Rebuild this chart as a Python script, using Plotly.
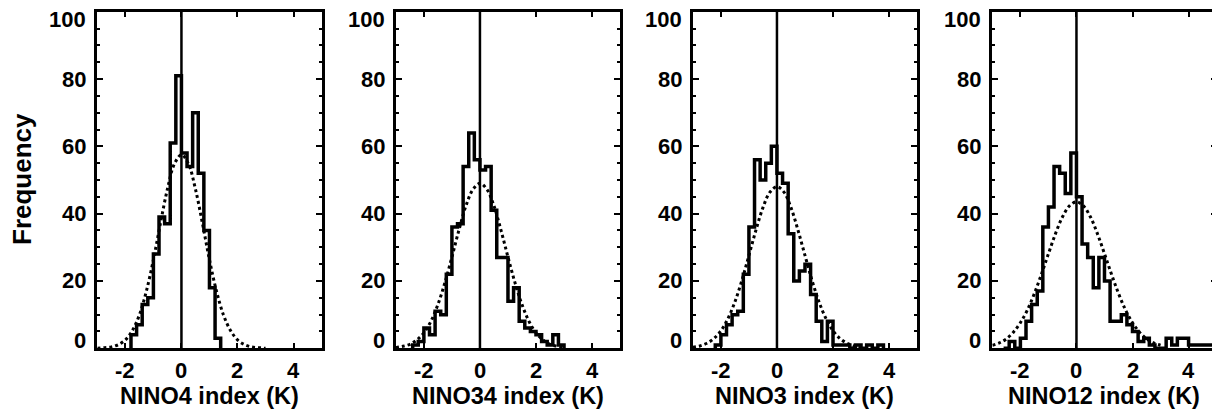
import numpy as np
import plotly.graph_objects as go

# ---------------- data ----------------
panel_titles = ["NINO4 index (K)", "NINO34 index (K)", "NINO3 index (K)", "NINO12 index (K)"]
bin_width = 0.2

nino4_first_edge = -1.8
nino4_counts = [4, 7, 13, 15, 28, 39, 37, 61, 81, 58, 54, 70, 52, 35, 18, 3]

nino34_first_edge = -2.4
nino34_counts = [1, 2, 6, 4, 11, 10, 22, 36, 37, 54, 64, 56, 53, 54, 41, 27, 27, 14,
                 18, 8, 6, 5, 4, 2, 1, 4, 1]

nino3_first_edge = -2.2
nino3_counts = [1, 4, 7, 10, 11, 22, 36, 56, 50, 55, 60, 52, 49, 34, 20, 23, 25, 16,
                8, 2, 8, 1, 1, 1, 0, 1, 0, 1, 0, 1]

nino12_first_edge = -2.6
nino12_counts = [0, 2, 0, 3, 8, 13, 17, 36, 42, 54, 52, 46, 58, 45, 31, 27, 18, 27,
                 20, 8, 8, 10, 7, 5, 2, 3, 1, 0, 0, 3, 1, 3, 3, 1, 1, 1, 1, 1]

# dotted normal-fit curves, read at 0.25 K spacing
fit_x = [-3.0, -2.75, -2.5, -2.25, -2.0, -1.75, -1.5, -1.25, -1.0, -0.75, -0.5, -0.25,
         0.0, 0.25, 0.5, 0.75, 1.0, 1.25, 1.5, 1.75, 2.0, 2.25, 2.5, 2.75, 3.0]
nino4_fit = [0.0, 0.2, 0.4, 1.1, 2.5, 5.3, 9.9, 17.0, 26.3, 37.1, 47.3, 54.8, 57.5,
             54.8, 47.3, 37.1, 26.3, 17.0, 9.9, 5.3, 2.5, 1.1, 0.4, 0.2, 0.0]
nino34_fit = [0.2, 0.6, 1.2, 2.5, 4.6, 8.0, 13.0, 19.5, 27.1, 35.1, 42.3, 47.2, 49.0,
              47.2, 42.3, 35.1, 27.1, 19.5, 13.0, 8.0, 4.6, 2.5, 1.2, 0.6, 0.2]
nino3_fit = [0.3, 0.7, 1.5, 2.9, 5.2, 8.8, 13.8, 20.2, 27.6, 35.1, 41.8, 46.4, 48.0,
             46.4, 41.8, 35.1, 27.6, 20.2, 13.8, 8.8, 5.2, 2.9, 1.5, 0.7, 0.3]
nino12_fit = [0.9, 1.6, 2.8, 4.8, 7.6, 11.4, 16.3, 22.0, 28.1, 34.0, 39.0, 42.3, 43.5,
              42.3, 39.0, 34.0, 28.1, 22.0, 16.3, 11.4, 7.6, 4.8, 2.8, 1.6, 0.9]

x_range = [-3, 5]
y_range = [0, 100]
x_ticks = [-2, 0, 2, 4]
y_ticks = [0, 20, 40, 60, 80, 100]
y_label = "Frequency"

panels = [
    (nino4_first_edge, nino4_counts, nino4_fit),
    (nino34_first_edge, nino34_counts, nino34_fit),
    (nino3_first_edge, nino3_counts, nino3_fit),
    (nino12_first_edge, nino12_counts, nino12_fit),
]

# ---------------- layout geometry ----------------
# the page body has an 8 px margin, so the figure is drawn 8 px smaller and
# all window positions are offset by that amount
OFF = 8
W, H = 1220 - OFF, 413 - OFF
FONT = "Liberation Sans, Arial, Helvetica, sans-serif"
panel_left_px = [97.5 - OFF, 396.5 - OFF, 694.0 - OFF, 994.0 - OFF]
panel_w_px = 224.6
top_px, bottom_px = 11.7 - OFF, 348.3 - OFF
y_dom = [(H - bottom_px) / H, (H - top_px) / H]

fig = go.Figure()
layout = dict(
    width=W, height=H,
    margin=dict(l=0, r=0, t=0, b=0),
    paper_bgcolor="white", plot_bgcolor="white",
    showlegend=False,
    font=dict(family=FONT, color="black"),
    annotations=[], shapes=[],
)

for i, (first_edge, counts, fit) in enumerate(panels):
    n = i + 1
    xa = "x" if n == 1 else f"x{n}"
    ya = "y" if n == 1 else f"y{n}"
    edges = first_edge + bin_width * np.arange(len(counts) + 1)
    step_x = np.concatenate([[edges[0]], edges])
    step_y = np.concatenate([[0], counts, [0]])

    # dotted fit
    fig.add_trace(go.Scatter(x=fit_x, y=fit, mode="lines", xaxis=xa, yaxis=ya,
                             line=dict(color="black", width=3, dash="dot", shape="spline"),
                             hoverinfo="skip"))
    # histogram outline
    fig.add_trace(go.Scatter(x=step_x, y=step_y, mode="lines", xaxis=xa, yaxis=ya,
                             line=dict(color="black", width=3.5, shape="hv"),
                             hoverinfo="skip"))

    x0 = panel_left_px[i] / W
    x1 = min((panel_left_px[i] + panel_w_px) / W, 1.0)
    layout[f"xaxis{'' if n == 1 else n}"] = dict(
        domain=[x0, x1], range=x_range, anchor=ya,
        showgrid=False, zeroline=False,
        showline=True, linewidth=3, linecolor="black", mirror="allticks",
        ticks="inside", ticklen=5, tickwidth=2, tickcolor="black",
        tickvals=x_ticks, showticklabels=False,
    )
    layout[f"yaxis{'' if n == 1 else n}"] = dict(
        domain=y_dom, range=y_range, anchor=xa,
        showgrid=False, zeroline=False,
        showline=True, linewidth=3, linecolor="black", mirror="allticks",
        ticks="inside", ticklen=6, tickwidth=2, tickcolor="black",
        tickvals=y_ticks, showticklabels=False,
        minor=dict(dtick=5, ticks="inside", ticklen=3, tickwidth=1.5, tickcolor="black"),
    )
    # y tick labels (first and last nudged inward, as in the reference)
    for v in y_ticks:
        if v == y_range[0]:
            shift = 8
        elif v == y_range[1]:
            shift = -8
        else:
            shift = 0
        layout["annotations"].append(dict(
            text=str(v), xref=f"{xa} domain", yref=ya, x=0, y=v,
            xanchor="right", yanchor="middle", xshift=-9, yshift=shift,
            showarrow=False, font=dict(family=FONT, size=22, weight=700)))
    # x tick labels
    for v in x_ticks:
        layout["annotations"].append(dict(
            text=str(v), xref=xa, yref=f"{ya} domain", x=v, y=0,
            xanchor="center", yanchor="middle", yshift=-22,
            showarrow=False, font=dict(family=FONT, size=22, weight=700)))
    # x title
    layout["annotations"].append(dict(
        text=panel_titles[i], xref=f"{xa} domain", yref=f"{ya} domain", x=0.5, y=0,
        xanchor="center", yanchor="middle", yshift=-48,
        showarrow=False, font=dict(family=FONT, size=23.5, weight=700)))
    # vertical line at zero
    layout["shapes"].append(dict(type="line", xref=xa, yref=f"{ya} domain",
                                 x0=0, x1=0, y0=0, y1=1,
                                 line=dict(color="black", width=2.5)))

layout["annotations"].append(dict(
    text=y_label, xref="paper", yref="paper", x=(22 - OFF) / W, y=(H - (179 - OFF)) / H,
    xanchor="center", yanchor="middle", textangle=-90, showarrow=False,
    font=dict(family=FONT, size=26, weight=700)))

fig.update_layout(**layout)
fig.write_html("out.html")
